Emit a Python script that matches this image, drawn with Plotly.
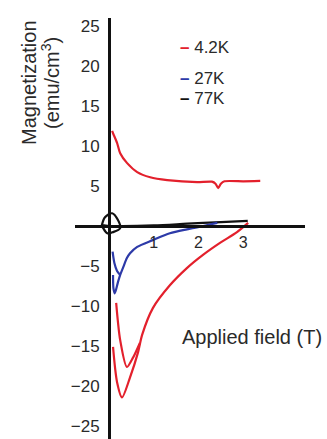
import plotly.graph_objects as go

# ---- data ----
# 4.2K, upper branch (positive magnetization)
red_up_x = [0.07, 0.09, 0.18, 0.25, 0.40, 0.63, 0.92, 1.30, 1.97, 2.30, 2.38, 2.44, 2.50, 2.58, 3.00, 3.38]
red_up_y = [11.9, 11.6, 10.4, 9.1, 7.9, 6.75, 6.1, 5.75, 5.5, 5.55, 5.3, 4.75, 5.3, 5.6, 5.6, 5.65]

# 4.2K, lower branch (outer)
red_lo_x = [0.09, 0.18, 0.29, 0.47, 0.65, 0.74, 0.98, 1.36, 1.74, 2.10, 2.48, 2.86, 3.11]
red_lo_y = [-15.1, -19.5, -21.4, -18.9, -15.75, -13.6, -10.25, -7.4, -5.25, -3.6, -2.1, -0.75, 0.4]

# 4.2K, lower branch (inner)
red_in_x = [0.16, 0.20, 0.25, 0.40, 0.54, 0.69]
red_in_y = [-9.6, -12.0, -14.25, -17.6, -16.4, -14.6]

# 27K
blue_x = [0.09, 0.10, 0.13, 0.20, 0.25, 0.31, 0.40, 0.47, 0.63, 0.98, 1.36, 1.74, 2.10, 2.42]
blue_y = [-6.1, -7.8, -8.4, -7.0, -6.1, -5.25, -4.0, -3.4, -2.6, -1.75, -0.9, -0.4, 0.0, 0.4]
blue2_x = [0.08, 0.12, 0.18, 0.25]
blue2_y = [-3.2, -4.6, -5.6, -6.1]

# 77K
black_x = [-0.16, -0.09, 0.07, 0.20, 0.25, 0.09, -0.04, -0.13, -0.16, 0.0, 0.30, 1.00, 1.75, 2.50, 3.10]
black_y = [0.1, 1.1, 1.6, 0.75, -0.25, -0.75, -0.9, -0.25, 0.1, 0.0, 0.0, 0.1, 0.3, 0.5, 0.65]

y_ticks = [-25, -20, -15, -10, -5, 5, 10, 15, 20, 25]
x_ticks = [1, 2, 3]
legend_labels = ["4.2K", "27K", "77K"]

RED = "#e3202c"
BLUE = "#2d3aa8"
BLACK = "#111111"
TXT = "#2a2a2a"
FONT = "Liberation Sans, Arial, sans-serif"

W, H = 327, 439

fig = go.Figure()
line_w = 2.2
def add(x, y, col, smooth=0.8):
    fig.add_trace(go.Scatter(x=x, y=y, mode="lines",
                             line=dict(color=col, width=line_w, shape="spline", smoothing=smooth),
                             showlegend=False, hoverinfo="skip"))

add(black_x, black_y, BLACK, 0.9)
add(red_up_x, red_up_y, RED, 0.6)
add(red_lo_x, red_lo_y, RED)
add(red_in_x, red_in_y, RED)
add(blue_x, blue_y, BLUE)
add(blue2_x, blue2_y, BLUE)

fig.update_layout(
    width=W, height=H,
    margin=dict(l=0, r=0, t=0, b=0),
    paper_bgcolor="white", plot_bgcolor="white",
    font=dict(family=FONT, color=TXT),
    xaxis=dict(
        domain=[75 / W, 305 / W], range=[-0.76, 4.38],
        anchor="free", position=1 - 226 / H,
        showline=True, linecolor=BLACK, linewidth=3,
        showgrid=False, zeroline=False, ticks="",
        tickvals=x_ticks, ticktext=[str(v) for v in x_ticks],
        tickfont=dict(size=16, color=TXT), ticklabelstandoff=1,
    ),
    yaxis=dict(
        domain=[0, 1 - 18 / H], range=[-26.6, 26.0],
        anchor="free", position=109 / W,
        showline=True, linecolor=BLACK, linewidth=3,
        showgrid=False, zeroline=False, ticks="",
        tickvals=y_ticks, ticktext=[str(v).replace("-", "\u2212") for v in y_ticks],
        tickfont=dict(size=17, color=TXT), ticklabelstandoff=5,
    ),
)

def px(x, y):
    return dict(x=x / W, y=1 - y / H, xref="paper", yref="paper")

annos = [
    dict(text="Magnetization", textangle=-90, font=dict(size=20, color=TXT),
         showarrow=False, xanchor="center", yanchor="middle", **px(29, 83)),
    dict(text="(emu/cm<sup>3</sup>)", textangle=-90, font=dict(size=20, color=TXT),
         showarrow=False, xanchor="center", yanchor="middle", **px(50, 83)),
    dict(text="Applied field (T)", font=dict(size=20, color=TXT),
         showarrow=False, xanchor="left", yanchor="middle", **px(180, 337)),
]
leg_colors = [RED, BLUE, BLACK]
leg_y = [47, 78, 98]
for lab, col, yy in zip(legend_labels, leg_colors, leg_y):
    annos.append(dict(
        text=f'<span style="color:{col}"><b>\u2013</b></span> {lab}',
        font=dict(size=17, color=TXT), showarrow=False,
        xanchor="left", yanchor="middle", **px(178, yy)))
fig.update_layout(annotations=annos)

fig.write_html("out.html")
